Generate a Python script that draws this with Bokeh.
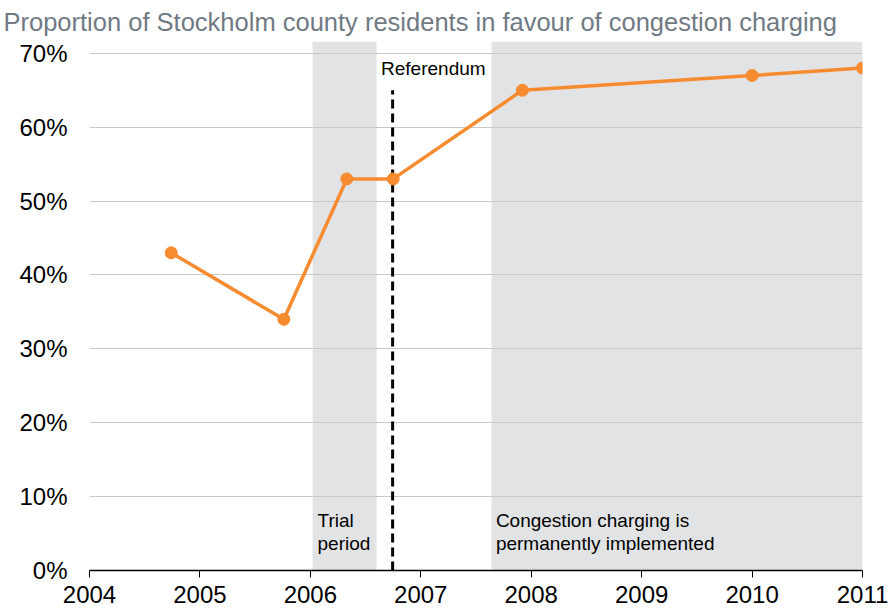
from bokeh.plotting import figure
from bokeh.models import Range1d, BoxAnnotation, FixedTicker, ColumnDataSource
from bokeh.core.properties import value
from bokeh.embed import file_html
from bokeh.resources import INLINE

# Data (decimal years, percent in favour)
survey_year = [2004.74, 2005.76, 2006.33, 2006.75, 2007.92, 2010.0, 2011.0]
support_pct = [43, 34, 53, 53, 65, 67, 68]

trial_start = 2006.02
trial_end = 2006.60
permanent_start = 2007.64
permanent_end = 2011.0
referendum_year = 2006.745

x_ticks = [2004, 2005, 2006, 2007, 2008, 2009, 2010, 2011]
y_ticks = [0, 10, 20, 30, 40, 50, 60, 70]

FONT = "Liberation Sans"
ORANGE = "#f68b30"
BAND = "#e2e3e5"

p = figure(width=890, height=608, output_backend="svg", toolbar_location=None,
           x_range=Range1d(2004, 2011), y_range=Range1d(0, 71.6),
           title="Proportion of Stockholm county residents in favour of congestion charging",
           min_border_left=89, min_border_right=28, min_border_bottom=38, min_border_top=41)

p.title.text_font = FONT
p.title.text_font_size = "25.5px"
p.title.text_font_style = "normal"
p.title.text_color = "#6f7a84"
p.title.offset = -86
p.title.standoff = 11

p.outline_line_color = None
p.background_fill_color = "white"

# bands
for a, b in [(trial_start, trial_end), (permanent_start, permanent_end)]:
    band = BoxAnnotation(left=a, right=b, fill_color=BAND, fill_alpha=1.0,
                         line_color=None, level="image")
    p.add_layout(band)

# grid
p.xgrid.grid_line_color = None
p.ygrid.grid_line_color = "#c9c9c9"
p.ygrid.grid_line_width = 1
p.ygrid.ticker = FixedTicker(ticks=y_ticks)

# referendum line
p.segment(x0=[referendum_year], y0=[0], x1=[referendum_year], y1=[65],
          line_color="black", line_width=3, line_dash="9 5")

# series
src = ColumnDataSource(dict(x=survey_year, y=support_pct))
p.line("x", "y", source=src, line_color=ORANGE, line_width=3.5)
p.scatter("x", "y", source=src, size=12, fill_color=ORANGE, line_color=ORANGE)

# annotations
p.text(x=[2006.64], y=[69.3], text=["Referendum"], text_font=value(FONT),
       text_font_size="19px", text_baseline="top", text_align="left", text_color="black")
p.text(x=[2006.065], y=[8.2], text=["Trial\nperiod"], text_font=value(FONT),
       text_font_size="19px", text_baseline="top", text_align="left", text_color="black",
       text_line_height=1.1)
p.text(x=[2007.68], y=[8.2], text=["Congestion charging is\npermanently implemented"],
       text_font=value(FONT), text_font_size="19px", text_baseline="top",
       text_align="left", text_color="black", text_line_height=1.1)

# axes
xa = p.xaxis[0]
xa.ticker = FixedTicker(ticks=x_ticks)
xa.axis_line_color = "black"
xa.axis_line_width = 1.5
xa.major_tick_in = 0
xa.major_tick_out = 7
xa.major_tick_line_color = "black"
xa.minor_tick_line_color = None
xa.major_label_text_font = FONT
xa.major_label_text_font_size = "24px"
xa.major_label_text_color = "black"
xa.major_label_text_line_height = 0.7
xa.major_label_standoff = 8

ya = p.yaxis[0]
ya.ticker = FixedTicker(ticks=y_ticks)
ya.major_label_overrides = {t: f"{t}%" for t in y_ticks}
ya.axis_line_color = None
ya.major_tick_line_color = None
ya.minor_tick_line_color = None
ya.major_tick_in = 0
ya.major_tick_out = 0
ya.major_label_text_font = FONT
ya.major_label_text_font_size = "24px"
ya.major_label_text_color = "black"
ya.major_label_standoff = 22

open("out.html", "w").write(file_html(p, INLINE))
